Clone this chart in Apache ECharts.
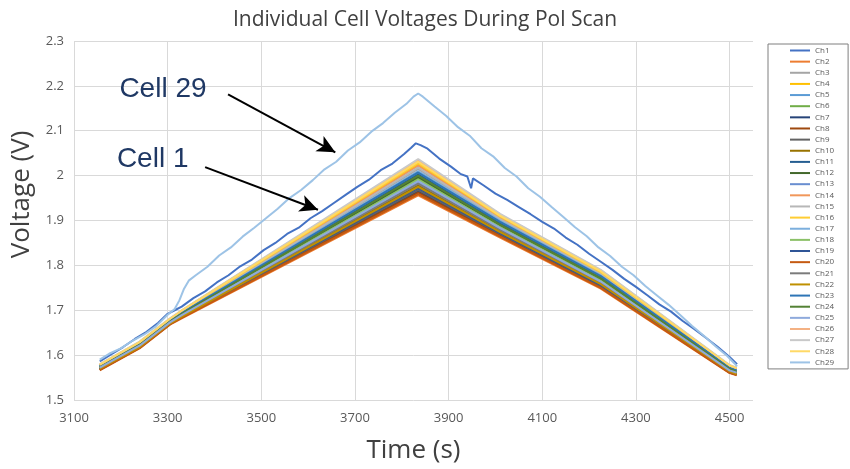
<!DOCTYPE html>
<html>
<head>
<meta charset="utf-8">
<script src="https://cdn.jsdelivr.net/npm/echarts@6/dist/echarts.min.js"></script>
<style>html,body{margin:0;padding:0;background:#fff;}#c{width:850px;height:469px;}</style>
</head>
<body>
<div id="c"></div>
<script>
// ---- Data ----
const title = 'Individual Cell Voltages During Pol Scan';
const xTitle = 'Time (s)';
const yTitle = 'Voltage (V)';

// Cell 29 (top light-blue trace)
const ch29T = [3155,3175,3200,3225,3250,3275,3300,3315,3325,3335,3345,3360,3385,3410,3435,3460,3485,3510,3535,3560,3585,3610,3635,3660,3685,3710,3735,3760,3785,3810,3825,3835,3845,3870,3895,3920,3945,3970,3995,4020,4045,4070,4095,4120,4145,4170,4195,4220,4245,4270,4295,4320,4345,4370,4395,4420,4445,4470,4495,4510,4516];
const ch29V = [1.590,1.603,1.615,1.632,1.646,1.664,1.690,1.703,1.722,1.748,1.766,1.778,1.797,1.822,1.840,1.864,1.884,1.905,1.926,1.950,1.968,1.990,2.014,2.031,2.056,2.074,2.098,2.117,2.140,2.160,2.176,2.183,2.176,2.154,2.133,2.108,2.089,2.061,2.043,2.017,1.998,1.972,1.953,1.930,1.908,1.885,1.865,1.840,1.821,1.797,1.778,1.754,1.733,1.712,1.689,1.665,1.643,1.620,1.598,1.582,1.575];

// Cell 1 (dark-blue trace)
const ch1T = [3155,3180,3205,3230,3255,3280,3300,3315,3330,3355,3380,3405,3430,3455,3480,3505,3530,3555,3580,3605,3630,3655,3680,3705,3730,3755,3780,3805,3820,3830,3840,3855,3880,3905,3925,3940,3948,3952,3975,4000,4025,4050,4075,4100,4125,4150,4175,4200,4225,4250,4275,4300,4325,4350,4375,4400,4425,4450,4475,4500,4516];
const ch1V = [1.586,1.602,1.618,1.636,1.652,1.672,1.692,1.700,1.708,1.727,1.742,1.762,1.778,1.798,1.813,1.834,1.850,1.870,1.884,1.905,1.921,1.939,1.957,1.975,1.991,2.012,2.027,2.048,2.062,2.072,2.068,2.060,2.038,2.020,2.004,1.998,1.972,1.994,1.978,1.960,1.946,1.930,1.914,1.897,1.882,1.862,1.846,1.826,1.808,1.790,1.770,1.752,1.733,1.713,1.697,1.676,1.658,1.638,1.618,1.596,1.580];

// Remaining cells: key times shared by the bundle
const bundleT = [3155,3240,3305,3330,3835,4010,4225,4500,4515];
const ch27 = [1.580,1.630,1.682,1.700,2.037,1.915,1.790,1.578,1.572];
const ch26 = [1.579,1.629,1.681,1.699,2.034,1.913,1.789,1.577,1.571];
const ch28 = [1.579,1.629,1.681,1.699,2.031,1.911,1.787,1.577,1.571];
const ch16 = [1.578,1.628,1.680,1.698,2.028,1.909,1.785,1.576,1.570];
const ch4  = [1.578,1.628,1.680,1.697,2.025,1.907,1.784,1.575,1.569];
const ch14 = [1.577,1.627,1.679,1.696,2.022,1.905,1.782,1.575,1.569];
const ch15 = [1.577,1.627,1.679,1.696,2.018,1.903,1.781,1.574,1.568];
const ch3  = [1.576,1.626,1.678,1.695,2.015,1.901,1.779,1.573,1.567];
const ch17 = [1.576,1.625,1.677,1.694,2.010,1.899,1.777,1.572,1.566];
const ch23 = [1.575,1.625,1.677,1.694,2.007,1.897,1.776,1.572,1.566];
const ch5  = [1.575,1.624,1.676,1.693,2.004,1.895,1.774,1.571,1.565];
const ch11 = [1.574,1.624,1.676,1.692,2.002,1.893,1.773,1.570,1.564];
const ch24 = [1.574,1.623,1.675,1.692,2.000,1.891,1.771,1.569,1.563];
const ch12 = [1.573,1.622,1.675,1.691,1.997,1.889,1.769,1.569,1.563];
const ch6  = [1.573,1.622,1.674,1.690,1.994,1.887,1.768,1.568,1.562];
const ch18 = [1.572,1.621,1.674,1.690,1.991,1.885,1.766,1.567,1.561];
const ch25 = [1.572,1.621,1.673,1.689,1.988,1.883,1.764,1.566,1.561];
const ch13 = [1.571,1.620,1.673,1.688,1.985,1.881,1.763,1.566,1.560];
const ch21 = [1.571,1.620,1.672,1.688,1.982,1.879,1.761,1.565,1.560];
const ch10 = [1.570,1.619,1.672,1.687,1.978,1.876,1.759,1.564,1.559];
const ch22 = [1.570,1.618,1.671,1.686,1.975,1.874,1.758,1.564,1.558];
const ch19 = [1.569,1.618,1.671,1.686,1.972,1.872,1.756,1.563,1.558];
const ch9  = [1.568,1.617,1.670,1.685,1.968,1.870,1.755,1.562,1.557];
const ch7  = [1.568,1.617,1.670,1.684,1.965,1.868,1.753,1.562,1.557];
const ch8  = [1.567,1.616,1.669,1.684,1.962,1.866,1.751,1.561,1.556];
const ch20 = [1.567,1.616,1.669,1.683,1.959,1.864,1.750,1.561,1.556];
const ch2  = [1.566,1.615,1.668,1.682,1.956,1.862,1.748,1.560,1.555];

const seriesNames = ['Ch1','Ch2','Ch3','Ch4','Ch5','Ch6','Ch7','Ch8','Ch9','Ch10','Ch11','Ch12','Ch13','Ch14','Ch15','Ch16','Ch17','Ch18','Ch19','Ch20','Ch21','Ch22','Ch23','Ch24','Ch25','Ch26','Ch27','Ch28','Ch29'];
const colors = ['#4472C4','#ED7D31','#A5A5A5','#FFC000','#5B9BD5','#70AD47','#264478','#9E480E','#636363','#997300','#255E91','#43682B','#698ED0','#F1975A','#B7B7B7','#FFCD33','#7CAFDD','#8CC168','#2F5597','#C55A11','#7B7B7B','#BF9000','#2E75B6','#548235','#8FAADC','#F4B183','#C9C9C9','#FFD966','#9DC3E6'];

const xTicks = {min: 3100, max: 4550, step: 200};
const yTicks = {min: 1.5, max: 2.3, step: 0.1};

// annotations (data coordinates)
const arrow29 = [[3429, 2.181], [3658, 2.052]];
const arrow1  = [[3380, 2.019], [3621, 1.924]];
const label29 = {text: 'Cell 29', at: [3290, 2.192]};
const label1  = {text: 'Cell 1', at: [3268, 2.037]};

// ---- Build ----
const zip = (t, v) => t.map((x, i) => [x, v[i]]);
const dataMap = {
  Ch1: zip(ch1T, ch1V), Ch29: zip(ch29T, ch29V),
  Ch2: zip(bundleT, ch2), Ch3: zip(bundleT, ch3), Ch4: zip(bundleT, ch4), Ch5: zip(bundleT, ch5),
  Ch6: zip(bundleT, ch6), Ch7: zip(bundleT, ch7), Ch8: zip(bundleT, ch8), Ch9: zip(bundleT, ch9),
  Ch10: zip(bundleT, ch10), Ch11: zip(bundleT, ch11), Ch12: zip(bundleT, ch12), Ch13: zip(bundleT, ch13),
  Ch14: zip(bundleT, ch14), Ch15: zip(bundleT, ch15), Ch16: zip(bundleT, ch16), Ch17: zip(bundleT, ch17),
  Ch18: zip(bundleT, ch18), Ch19: zip(bundleT, ch19), Ch20: zip(bundleT, ch20), Ch21: zip(bundleT, ch21),
  Ch22: zip(bundleT, ch22), Ch23: zip(bundleT, ch23), Ch24: zip(bundleT, ch24), Ch25: zip(bundleT, ch25),
  Ch26: zip(bundleT, ch26), Ch27: zip(bundleT, ch27), Ch28: zip(bundleT, ch28)
};

const FONT = "'Open Sans', 'Noto Sans', sans-serif";
const series = seriesNames.map((n, i) => {
  const s = {
    name: n, type: 'line', data: dataMap[n], showSymbol: false, symbol: 'none',
    lineStyle: {width: 2, color: colors[i]}, itemStyle: {color: colors[i]},
    z: 2, animation: false
  };
  if (n === 'Ch29') {
    s.markLine = {
      silent: true, animation: false, symbol: ['none', 'arrow'], symbolSize: [13, 18],
      lineStyle: {color: '#000', width: 2, type: 'solid'}, label: {show: false},
      data: [
        [{coord: arrow29[0]}, {coord: arrow29[1]}],
        [{coord: arrow1[0]}, {coord: arrow1[1]}]
      ]
    };
    s.markPoint = {
      silent: true, animation: false, symbol: 'circle', symbolSize: 1,
      itemStyle: {color: 'rgba(0,0,0,0)'},
      label: {show: true, position: 'inside', color: '#1F3864', fontSize: 28,
              fontFamily: "'Liberation Sans', Arial, sans-serif", formatter: p => p.name},
      data: [
        {name: label29.text, coord: label29.at},
        {name: label1.text, coord: label1.at}
      ]
    };
  }
  return s;
});

const chart = echarts.init(document.getElementById('c'), null, {renderer: 'canvas'});
chart.setOption({
  animation: false,
  backgroundColor: '#fff',
  title: {
    text: title, left: 'center', top: 5,
    textStyle: {fontFamily: FONT, fontSize: 21, fontWeight: 'normal', color: '#404040'}
  },
  grid: {left: 74, right: 97, top: 41, bottom: 67},
  legend: {
    orient: 'vertical', left: 768, top: 44,
    data: seriesNames, icon: 'rect', itemWidth: 20, itemHeight: 2, itemGap: 2.14,
    padding: [2, 14, 2, 22],
    borderColor: '#7F7F7F', borderWidth: 1,
    textStyle: {fontFamily: FONT, fontSize: 8, lineHeight: 9, color: '#595959'},
    selectedMode: false
  },
  xAxis: {
    type: 'value', min: xTicks.min, max: xTicks.max, interval: xTicks.step,
    name: xTitle, nameLocation: 'middle', nameGap: 38,
    nameTextStyle: {fontFamily: FONT, fontSize: 26, color: '#404040'},
    axisLine: {show: false}, axisTick: {show: false},
    axisLabel: {fontFamily: FONT, fontSize: 13, color: '#595959', margin: 12, showMaxLabel: false,
                formatter: v => String(v)},
    splitLine: {show: true, showMaxLine: false, lineStyle: {color: '#D9D9D9', width: 1}}
  },
  yAxis: {
    type: 'value', min: yTicks.min, max: yTicks.max, interval: yTicks.step,
    name: yTitle, nameLocation: 'middle', nameGap: 37,
    nameTextStyle: {fontFamily: FONT, fontSize: 26, color: '#404040', padding: [0, 0, 0, 52]},
    axisLine: {show: false}, axisTick: {show: false},
    axisLabel: {fontFamily: FONT, fontSize: 13, color: '#595959', margin: 10},
    splitLine: {show: true, lineStyle: {color: '#D9D9D9', width: 1}}
  },
  series: series
});
</script>
</body>
</html>
